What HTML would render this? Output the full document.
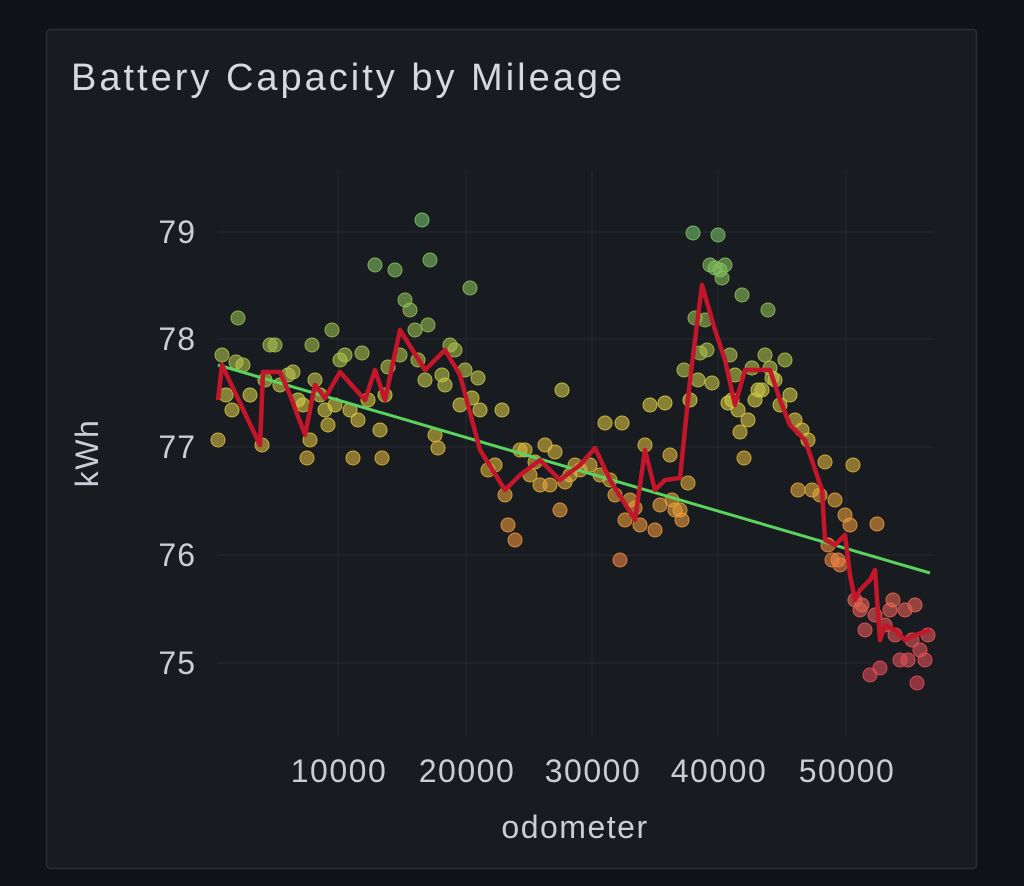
<!DOCTYPE html>
<html><head><meta charset="utf-8"><style>
html,body{margin:0;padding:0;background:#111217;width:1024px;height:886px;overflow:hidden}
svg{display:block}
text{font-family:"Liberation Sans",sans-serif}
</style></head><body>
<svg id="s" width="1024" height="886" viewBox="0 0 1024 886">
<rect x="0" y="0" width="1024" height="886" fill="#111217"/>
<rect x="46.5" y="29.5" width="930" height="839" rx="4" fill="#181b1f" stroke="#2c2e35" stroke-width="1.5"/>
<text x="71" y="90" font-size="38" letter-spacing="3" fill="#d8d9e0">Battery Capacity by Mileage</text>
<g stroke="#262930" stroke-width="1">
<line x1="218" y1="232" x2="932" y2="232"/><line x1="218" y1="339" x2="932" y2="339"/>
<line x1="218" y1="447" x2="932" y2="447"/><line x1="218" y1="555" x2="932" y2="555"/>
<line x1="218" y1="663" x2="932" y2="663"/>
<line x1="338" y1="170" x2="338" y2="735"/><line x1="466" y1="170" x2="466" y2="735"/>
<line x1="592" y1="170" x2="592" y2="735"/><line x1="718" y1="170" x2="718" y2="735"/>
<line x1="846" y1="170" x2="846" y2="735"/>
</g>
<g font-size="32" fill="#ccccd6" text-anchor="end" letter-spacing="1">
<text x="196" y="243">79</text><text x="196" y="350">78</text><text x="196" y="458">77</text>
<text x="196" y="566">76</text><text x="196" y="674">75</text>
</g>
<g font-size="32" fill="#ccccd6" text-anchor="middle" letter-spacing="1.5">
<text x="339" y="782">10000</text><text x="467" y="782">20000</text><text x="593" y="782">30000</text>
<text x="719" y="782">40000</text><text x="847" y="782">50000</text>
<text x="575" y="838">odometer</text>
<text transform="translate(98,453) rotate(-90)">kWh</text>
</g>
<g id="dots"></g>
<line x1="218" y1="365" x2="930" y2="573" stroke="#5ad35f" stroke-width="3"/>
<polyline fill="none" stroke="#c4162a" stroke-width="4.5" stroke-linejoin="round" points="218,400 222,365 260,445 263,372 280,372 290,395 305,435 315,385 325,398 340,372 365,400 375,370 385,400 400,330 425,370 445,350 460,375 480,450 505,490 520,475 540,460 560,480 580,465 595,448 610,480 635,520 645,450 655,490 665,480 680,478 690,380 702,285 715,330 725,360 735,405 745,370 770,370 780,400 790,425 805,440 822,490 825,540 835,545 845,535 850,575 855,600 860,590 870,580 875,570 880,640 885,625 895,630 905,640 915,635 930,630"/>
</svg>
<script>
var p=[[218,440],[222,355],[226,395],[232,410],[236,362],[238,318],[243,365],[250,395],[262,445],[265,380],[270,345],[275,345],[280,385],[288,375],[293,372],[298,400],[303,405],[307,458],[310,440],[312,345],[315,380],[320,395],[325,410],[328,425],[332,330],[335,405],[340,360],[345,355],[350,410],[353,458],[358,420],[362,353],[368,400],[375,265],[380,430],[382,458],[385,395],[388,367],[395,270],[400,355],[405,300],[410,310],[415,330],[418,360],[422,220],[425,380],[428,325],[430,260],[435,435],[438,448],[442,375],[445,385],[450,345],[455,350],[460,405],[465,370],[470,288],[472,398],[478,378],[480,410],[488,470],[495,465],[502,410],[505,495],[508,525],[515,540],[520,450],[525,450],[530,475],[535,462],[540,485],[545,445],[550,485],[555,452],[560,510],[562,390],[565,482],[570,475],[575,465],[580,470],[590,465],[600,475],[605,423],[610,480],[615,495],[620,560],[622,423],[625,520],[630,500],[635,508],[640,525],[645,445],[650,405],[655,530],[660,505],[665,403],[670,455],[672,500],[675,510],[680,510],[682,520],[684,370],[688,483],[690,400],[693,233],[695,318],[698,380],[700,353],[705,320],[707,350],[710,265],[712,383],[715,268],[718,235],[720,270],[722,278],[725,265],[728,403],[730,355],[732,400],[735,375],[738,410],[740,432],[742,295],[744,458],[748,420],[752,368],[755,400],[758,390],[762,390],[765,355],[768,310],[770,368],[772,378],[775,380],[780,405],[785,360],[790,395],[795,420],[798,490],[802,430],[808,440],[812,490],[820,495],[825,462],[828,545],[832,560],[835,500],[838,560],[840,565],[845,515],[850,525],[853,465],[855,600],[860,610],[862,605],[865,630],[870,675],[875,615],[877,524],[880,668],[885,625],[890,610],[893,600],[895,635],[900,660],[905,610],[908,660],[912,640],[915,605],[917,683],[920,650],[925,660],[928,635]];
function col(y){var st=[[220,[115,191,105]],[330,[150,185,80]],[400,[210,200,70]],[470,[220,175,60]],[540,[235,145,60]],[610,[228,95,85]],[690,[222,70,90]]];
if(y<=st[0][0])return st[0][1];for(var i=1;i<st.length;i++){if(y<=st[i][0]){var a=st[i-1],b=st[i],t=(y-a[0])/(b[0]-a[0]);return a[1].map(function(v,k){return Math.round(v+(b[1][k]-v)*t)})}}return st[st.length-1][1];}
var g=document.getElementById('dots'),h='';
p.forEach(function(q){var c=col(q[1]);h+='<circle cx="'+q[0]+'" cy="'+q[1]+'" r="7" fill="rgba('+c+',0.6)" stroke="rgba('+c+',0.9)" stroke-width="1"/>';});
g.innerHTML=h;
</script>
</body></html>
